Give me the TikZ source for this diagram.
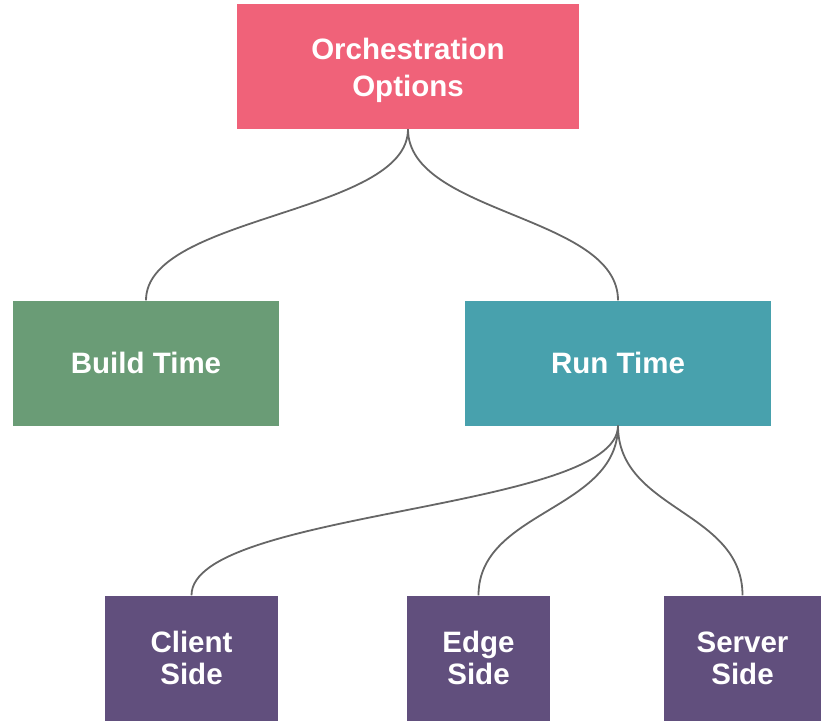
\documentclass[tikz,border=0pt]{standalone}
\usepackage{fontspec}
\setmainfont{Liberation Sans}
\usepackage{xcolor}
\usepackage{tikz}
\usetikzlibrary{positioning}
\definecolor{rootred}{HTML}{F06279}
\definecolor{buildgreen}{HTML}{6A9C76}
\definecolor{runteal}{HTML}{48A1AD}
\definecolor{sidepurple}{HTML}{614F7D}
\definecolor{linkgray}{HTML}{666666}
\tikzstyle{link} = [line width=1.8pt, draw=linkgray]
\tikzstyle{block} = [rectangle, text=white, font=\fontsize{29.5}{37}\selectfont\bfseries, align=center, minimum height=125pt, inner sep=0pt]
\tikzstyle{leaf} = [block, fill=sidepurple, font=\fontsize{29.5}{32}\selectfont\bfseries]

\begin{document}
\begin{tikzpicture}[x=1pt, y=-1pt]
    \useasboundingbox (0,0) rectangle (825,722);
    % Nodes
    \node (orch) [block, fill=rootred, minimum width=342pt, text height=67pt] at (408,66.5) {Orchestration\\Options};
    \node (build) [block, fill=buildgreen, minimum width=266pt] at (146,363) {Build Time};
    \node (run) [block, fill=runteal, minimum width=306pt] at (618,363) {Run Time};
    \node (client) [leaf, minimum width=173pt] at (191.5,658) {Client\\Side};
    \node (edge) [leaf, minimum width=143pt] at (478.5,658) {Edge\\Side};
    \node (server) [leaf, minimum width=157pt] at (742.5,658) {Server\\Side};

    % Links
    \draw [link] (orch.south) .. controls +(0,85) and +(0,-85) .. (build.north);
    \draw [link] (orch.south) .. controls +(0,85) and +(0,-85) .. (run.north);
    \draw [link] (run.south) .. controls +(0,85) and +(0,-85) .. (client.north);
    \draw [link] (run.south) .. controls +(0,85) and +(0,-85) .. (edge.north);
    \draw [link] (run.south) .. controls +(0,85) and +(0,-85) .. (server.north);
\end{tikzpicture}
\end{document}
